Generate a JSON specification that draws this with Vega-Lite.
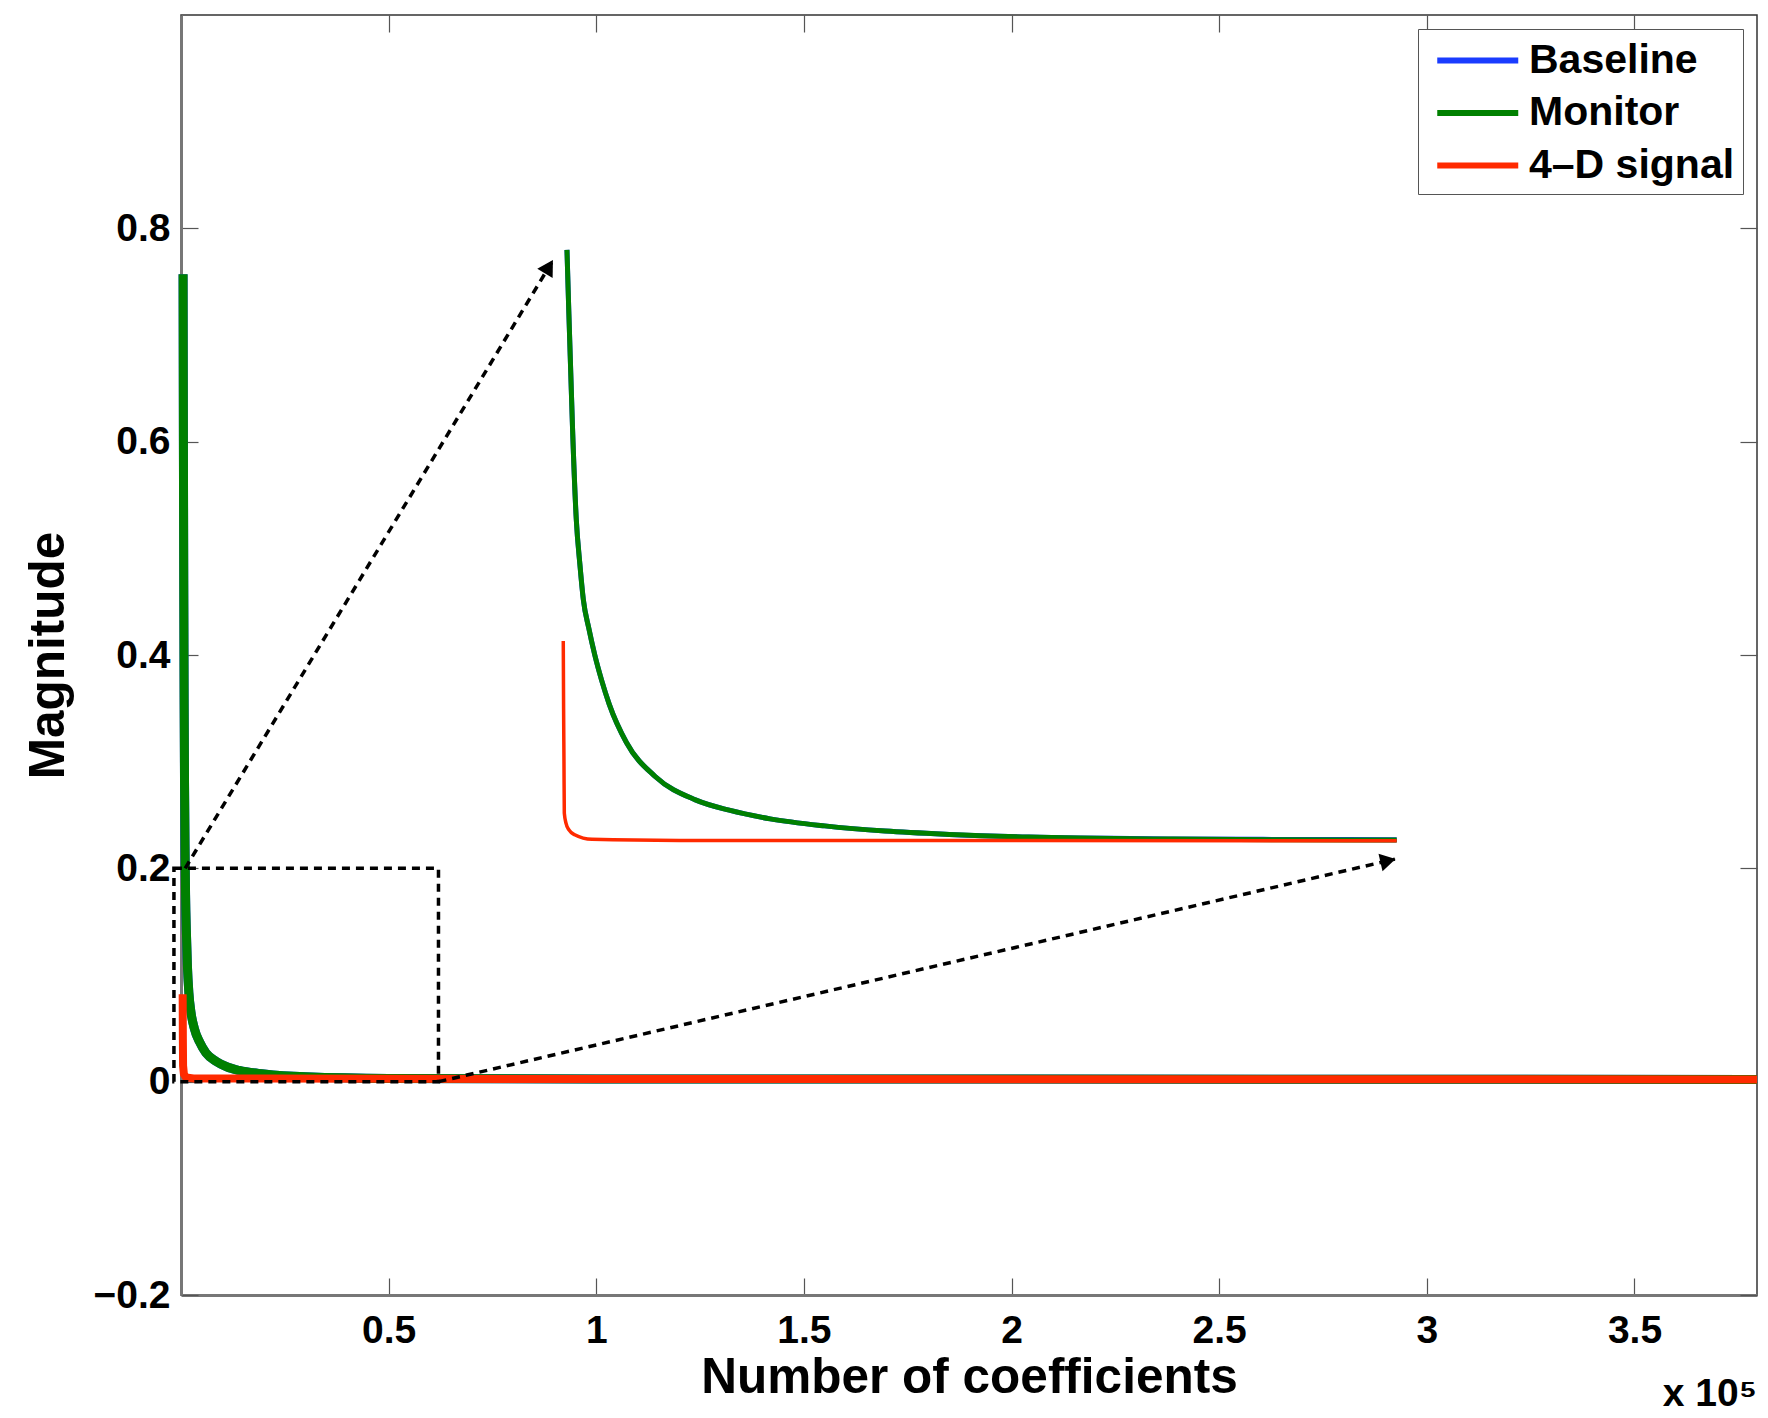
{
  "$schema": "https://vega.github.io/schema/vega-lite/v6.json",
  "width": 1576,
  "height": 1280,
  "autosize": {"type": "none"},
  "padding": {"left": 181, "top": 15, "right": 11, "bottom": 123},
  "background": "white",
  "config": {
    "font": "Liberation Sans",
    "view": {"stroke": "#333333", "strokeWidth": 1.5},
    "axis": {
      "grid": false,
      "tickSize": -17,
      "tickColor": "#555555",
      "tickWidth": 1.2,
      "domainColor": "#777777",
      "domainWidth": 3,
      "labelFontSize": 39,
      "labelFontWeight": "bold",
      "labelColor": "#000000",
      "labelFlush": false,
      "labelOverlap": false,
      "titleFontSize": 49.5,
      "titleFontWeight": "bold",
      "titleColor": "#000000"
    },
    "legend": {
      "symbolType": "M-2,0H2",
      "symbolSize": 1640,
      "symbolStrokeWidth": 6,
      "labelFontSize": 41,
      "labelFontWeight": "bold",
      "labelColor": "#000000",
      "labelLimit": 500,
      "labelOffset": 27.75,
      "symbolOffset": 28.25,
      "rowPadding": 8.5,
      "padding": 8,
      "strokeColor": "#555555",
      "fillColor": "#ffffff"
    }
  },
  "title": {
    "text": "x 10⁵",
    "orient": "bottom",
    "anchor": "end",
    "frame": "group",
    "fontSize": 39,
    "fontWeight": "bold",
    "color": "#000000",
    "offset": -27
  },
  "datasets": {
    "curves": [
      {"s": "Baseline", "p": "main", "x": 0.005, "y": 0.757},
      {"s": "Baseline", "p": "main", "x": 0.0058, "y": 0.6},
      {"s": "Baseline", "p": "main", "x": 0.0066, "y": 0.47},
      {"s": "Baseline", "p": "main", "x": 0.0075, "y": 0.36},
      {"s": "Baseline", "p": "main", "x": 0.0085, "y": 0.28},
      {"s": "Baseline", "p": "main", "x": 0.0097, "y": 0.22},
      {"s": "Baseline", "p": "main", "x": 0.011, "y": 0.175},
      {"s": "Baseline", "p": "main", "x": 0.013, "y": 0.14},
      {"s": "Baseline", "p": "main", "x": 0.0155, "y": 0.108},
      {"s": "Baseline", "p": "main", "x": 0.019, "y": 0.083},
      {"s": "Baseline", "p": "main", "x": 0.024, "y": 0.065},
      {"s": "Baseline", "p": "main", "x": 0.032, "y": 0.05},
      {"s": "Baseline", "p": "main", "x": 0.045, "y": 0.037},
      {"s": "Baseline", "p": "main", "x": 0.06, "y": 0.027},
      {"s": "Baseline", "p": "main", "x": 0.085, "y": 0.019},
      {"s": "Baseline", "p": "main", "x": 0.11, "y": 0.014},
      {"s": "Baseline", "p": "main", "x": 0.14, "y": 0.0105},
      {"s": "Baseline", "p": "main", "x": 0.2, "y": 0.0072},
      {"s": "Baseline", "p": "main", "x": 0.3, "y": 0.0045},
      {"s": "Baseline", "p": "main", "x": 0.5, "y": 0.003},
      {"s": "Baseline", "p": "main", "x": 1.0, "y": 0.0026},
      {"s": "Baseline", "p": "main", "x": 2.0, "y": 0.0024},
      {"s": "Baseline", "p": "main", "x": 3.795, "y": 0.0021},
      {"s": "Monitor", "p": "main", "x": 0.005, "y": 0.757},
      {"s": "Monitor", "p": "main", "x": 0.0058, "y": 0.6},
      {"s": "Monitor", "p": "main", "x": 0.0066, "y": 0.47},
      {"s": "Monitor", "p": "main", "x": 0.0075, "y": 0.36},
      {"s": "Monitor", "p": "main", "x": 0.0085, "y": 0.28},
      {"s": "Monitor", "p": "main", "x": 0.0097, "y": 0.22},
      {"s": "Monitor", "p": "main", "x": 0.011, "y": 0.175},
      {"s": "Monitor", "p": "main", "x": 0.013, "y": 0.14},
      {"s": "Monitor", "p": "main", "x": 0.0155, "y": 0.108},
      {"s": "Monitor", "p": "main", "x": 0.019, "y": 0.083},
      {"s": "Monitor", "p": "main", "x": 0.024, "y": 0.065},
      {"s": "Monitor", "p": "main", "x": 0.032, "y": 0.05},
      {"s": "Monitor", "p": "main", "x": 0.045, "y": 0.037},
      {"s": "Monitor", "p": "main", "x": 0.06, "y": 0.027},
      {"s": "Monitor", "p": "main", "x": 0.085, "y": 0.019},
      {"s": "Monitor", "p": "main", "x": 0.11, "y": 0.014},
      {"s": "Monitor", "p": "main", "x": 0.14, "y": 0.0105},
      {"s": "Monitor", "p": "main", "x": 0.2, "y": 0.0072},
      {"s": "Monitor", "p": "main", "x": 0.3, "y": 0.0045},
      {"s": "Monitor", "p": "main", "x": 0.5, "y": 0.003},
      {"s": "Monitor", "p": "main", "x": 1.0, "y": 0.0026},
      {"s": "Monitor", "p": "main", "x": 2.0, "y": 0.0024},
      {"s": "Monitor", "p": "main", "x": 3.795, "y": 0.0021},
      {"s": "4–D signal", "p": "main", "x": 0.004, "y": 0.082},
      {"s": "4–D signal", "p": "main", "x": 0.0045, "y": 0.04},
      {"s": "4–D signal", "p": "main", "x": 0.005, "y": 0.015},
      {"s": "4–D signal", "p": "main", "x": 0.007, "y": 0.007},
      {"s": "4–D signal", "p": "main", "x": 0.012, "y": 0.004},
      {"s": "4–D signal", "p": "main", "x": 0.03, "y": 0.003},
      {"s": "4–D signal", "p": "main", "x": 0.5, "y": 0.0027},
      {"s": "4–D signal", "p": "main", "x": 1.5, "y": 0.0024},
      {"s": "4–D signal", "p": "main", "x": 3.795, "y": 0.0021},
      {"s": "Baseline", "p": "inset", "x": 0.9294, "y": 0.7798},
      {"s": "Baseline", "p": "inset", "x": 0.934, "y": 0.72},
      {"s": "Baseline", "p": "inset", "x": 0.9385, "y": 0.665},
      {"s": "Baseline", "p": "inset", "x": 0.9429, "y": 0.6117},
      {"s": "Baseline", "p": "inset", "x": 0.9518, "y": 0.5273},
      {"s": "Baseline", "p": "inset", "x": 0.9605, "y": 0.485},
      {"s": "Baseline", "p": "inset", "x": 0.9687, "y": 0.4523},
      {"s": "Baseline", "p": "inset", "x": 0.982, "y": 0.425},
      {"s": "Baseline", "p": "inset", "x": 0.9964, "y": 0.4},
      {"s": "Baseline", "p": "inset", "x": 1.0131, "y": 0.376},
      {"s": "Baseline", "p": "inset", "x": 1.0311, "y": 0.354},
      {"s": "Baseline", "p": "inset", "x": 1.0726, "y": 0.318},
      {"s": "Baseline", "p": "inset", "x": 1.1418, "y": 0.2861},
      {"s": "Baseline", "p": "inset", "x": 1.2387, "y": 0.2642},
      {"s": "Baseline", "p": "inset", "x": 1.32, "y": 0.2545},
      {"s": "Baseline", "p": "inset", "x": 1.4186, "y": 0.2464},
      {"s": "Baseline", "p": "inset", "x": 1.55, "y": 0.2398},
      {"s": "Baseline", "p": "inset", "x": 1.6955, "y": 0.2349},
      {"s": "Baseline", "p": "inset", "x": 1.85, "y": 0.2318},
      {"s": "Baseline", "p": "inset", "x": 2.0417, "y": 0.2293},
      {"s": "Baseline", "p": "inset", "x": 2.3878, "y": 0.2276},
      {"s": "Baseline", "p": "inset", "x": 2.65, "y": 0.2271},
      {"s": "Baseline", "p": "inset", "x": 2.9274, "y": 0.2269},
      {"s": "Monitor", "p": "inset", "x": 0.9294, "y": 0.7798},
      {"s": "Monitor", "p": "inset", "x": 0.934, "y": 0.72},
      {"s": "Monitor", "p": "inset", "x": 0.9385, "y": 0.665},
      {"s": "Monitor", "p": "inset", "x": 0.9429, "y": 0.6117},
      {"s": "Monitor", "p": "inset", "x": 0.9518, "y": 0.5273},
      {"s": "Monitor", "p": "inset", "x": 0.9605, "y": 0.485},
      {"s": "Monitor", "p": "inset", "x": 0.9687, "y": 0.4523},
      {"s": "Monitor", "p": "inset", "x": 0.982, "y": 0.425},
      {"s": "Monitor", "p": "inset", "x": 0.9964, "y": 0.4},
      {"s": "Monitor", "p": "inset", "x": 1.0131, "y": 0.376},
      {"s": "Monitor", "p": "inset", "x": 1.0311, "y": 0.354},
      {"s": "Monitor", "p": "inset", "x": 1.0726, "y": 0.318},
      {"s": "Monitor", "p": "inset", "x": 1.1418, "y": 0.2861},
      {"s": "Monitor", "p": "inset", "x": 1.2387, "y": 0.2642},
      {"s": "Monitor", "p": "inset", "x": 1.32, "y": 0.2545},
      {"s": "Monitor", "p": "inset", "x": 1.4186, "y": 0.2464},
      {"s": "Monitor", "p": "inset", "x": 1.55, "y": 0.2398},
      {"s": "Monitor", "p": "inset", "x": 1.6955, "y": 0.2349},
      {"s": "Monitor", "p": "inset", "x": 1.85, "y": 0.2318},
      {"s": "Monitor", "p": "inset", "x": 2.0417, "y": 0.2293},
      {"s": "Monitor", "p": "inset", "x": 2.3878, "y": 0.2274},
      {"s": "Monitor", "p": "inset", "x": 2.65, "y": 0.2268},
      {"s": "Monitor", "p": "inset", "x": 2.9274, "y": 0.2266},
      {"s": "4–D signal", "p": "inset", "x": 0.9205, "y": 0.4131},
      {"s": "4–D signal", "p": "inset", "x": 0.9213, "y": 0.35},
      {"s": "4–D signal", "p": "inset", "x": 0.9222, "y": 0.3},
      {"s": "4–D signal", "p": "inset", "x": 0.923, "y": 0.2517},
      {"s": "4–D signal", "p": "inset", "x": 0.9272, "y": 0.2422},
      {"s": "4–D signal", "p": "inset", "x": 0.9342, "y": 0.236},
      {"s": "4–D signal", "p": "inset", "x": 0.948, "y": 0.2315},
      {"s": "4–D signal", "p": "inset", "x": 0.9897, "y": 0.2272},
      {"s": "4–D signal", "p": "inset", "x": 1.2, "y": 0.2262},
      {"s": "4–D signal", "p": "inset", "x": 2.0, "y": 0.226},
      {"s": "4–D signal", "p": "inset", "x": 2.9274, "y": 0.2259}
    ],
    "box": [{"x0": -0.017, "x1": 0.62, "y0": 0.0, "y1": 0.2}],
    "arrows": [
      {"a": "up", "x": 0.01, "y": 0.2},
      {"a": "up", "x": 0.895, "y": 0.7696},
      {"a": "right", "x": 0.62, "y": 0.0},
      {"a": "right", "x": 2.923, "y": 0.2086}
    ],
    "heads": [
      {"a": "up", "x": 0.886, "y": 0.764},
      {"a": "right", "x": 2.9066, "y": 0.2071}
    ]
  },
  "layer": [
    {
      "data": {"name": "curves"},
      "transform": [{"filter": "datum.p === 'main' && datum.s !== '4–D signal'"}],
      "mark": {"type": "line", "strokeWidth": 9, "clip": false, "interpolate": "monotone"},
      "encoding": {
        "x": {
          "field": "x", "type": "quantitative",
          "scale": {"domain": [0, 3.795], "nice": false, "zero": false},
          "axis": {
            "orient": "bottom",
            "values": [0.5, 1, 1.5, 2, 2.5, 3, 3.5],
            "format": "~g",
            "labelPadding": 33,
            "title": "Number of coefficients",
            "titlePadding": 3
          }
        },
        "y": {
          "field": "y", "type": "quantitative",
          "scale": {"domain": [-0.2, 1.0], "nice": false, "zero": false},
          "axis": {
            "orient": "left",
            "values": [-0.2, 0, 0.2, 0.4, 0.6, 0.8],
            "format": "~g",
            "labelPadding": 28,
            "title": "Magnitude",
            "titlePadding": 20
          }
        },
        "color": {
          "field": "s", "type": "nominal",
          "scale": {"domain": ["Baseline", "Monitor", "4–D signal"], "range": ["#1a3cff", "#008000", "#ff2a00"]},
          "legend": {"title": null, "orient": "none", "legendX": 1237, "legendY": 14}
        },
        "order": {"field": "x", "type": "quantitative"}
      }
    },
    {
      "data": {"name": "curves"},
      "transform": [{"filter": "datum.p === 'main' && datum.s === '4–D signal'"}],
      "mark": {"type": "line", "strokeWidth": 8, "clip": false},
      "encoding": {
        "x": {"field": "x", "type": "quantitative", "axis": null},
        "y": {"field": "y", "type": "quantitative", "axis": null},
        "color": {"field": "s", "type": "nominal"}
      }
    },
    {
      "data": {"name": "curves"},
      "transform": [{"filter": "datum.p === 'inset' && datum.s !== '4–D signal'"}],
      "mark": {"type": "line", "strokeWidth": 5, "clip": false, "interpolate": "monotone"},
      "encoding": {
        "x": {"field": "x", "type": "quantitative", "axis": null},
        "y": {"field": "y", "type": "quantitative", "axis": null},
        "color": {"field": "s", "type": "nominal"}
      }
    },
    {
      "data": {"name": "curves"},
      "transform": [{"filter": "datum.p === 'inset' && datum.s === '4–D signal'"}],
      "mark": {"type": "line", "strokeWidth": 3.5, "clip": false, "interpolate": "monotone"},
      "encoding": {
        "x": {"field": "x", "type": "quantitative", "axis": null},
        "y": {"field": "y", "type": "quantitative", "axis": null},
        "color": {"field": "s", "type": "nominal"}
      }
    },
    {
      "data": {"name": "box"},
      "mark": {"type": "rect", "fill": null, "fillOpacity": 0, "stroke": "#000000", "strokeWidth": 3.5, "strokeDash": [8, 6], "clip": false},
      "encoding": {
        "x": {
          "field": "x0", "type": "quantitative",
          "axis": {"orient": "top", "values": [0.5, 1, 1.5, 2, 2.5, 3, 3.5], "labels": false, "domain": false, "title": null}
        },
        "x2": {"field": "x1"},
        "y": {
          "field": "y0", "type": "quantitative",
          "axis": {"orient": "right", "values": [-0.2, 0, 0.2, 0.4, 0.6, 0.8], "labels": false, "domain": false, "title": null}
        },
        "y2": {"field": "y1"}
      }
    },
    {
      "data": {"name": "arrows"},
      "mark": {"type": "line", "color": "#000000", "strokeWidth": 3.5, "strokeDash": [8, 6], "clip": false},
      "encoding": {
        "x": {"field": "x", "type": "quantitative", "axis": null},
        "y": {"field": "y", "type": "quantitative", "axis": null},
        "detail": {"field": "a"}
      }
    },
    {
      "data": {"name": "heads"},
      "transform": [{"filter": "datum.a === 'up'"}],
      "mark": {"type": "point", "shape": "triangle-right", "filled": true, "color": "#000000", "opacity": 1, "size": 320, "angle": 301},
      "encoding": {
        "x": {"field": "x", "type": "quantitative", "axis": null},
        "y": {"field": "y", "type": "quantitative", "axis": null}
      }
    },
    {
      "data": {"name": "heads"},
      "transform": [{"filter": "datum.a === 'right'"}],
      "mark": {"type": "point", "shape": "triangle-right", "filled": true, "color": "#000000", "opacity": 1, "size": 320, "angle": 347},
      "encoding": {
        "x": {"field": "x", "type": "quantitative", "axis": null},
        "y": {"field": "y", "type": "quantitative", "axis": null}
      }
    }
  ],
  "resolve": {"axis": {"x": "independent", "y": "independent"}}
}
